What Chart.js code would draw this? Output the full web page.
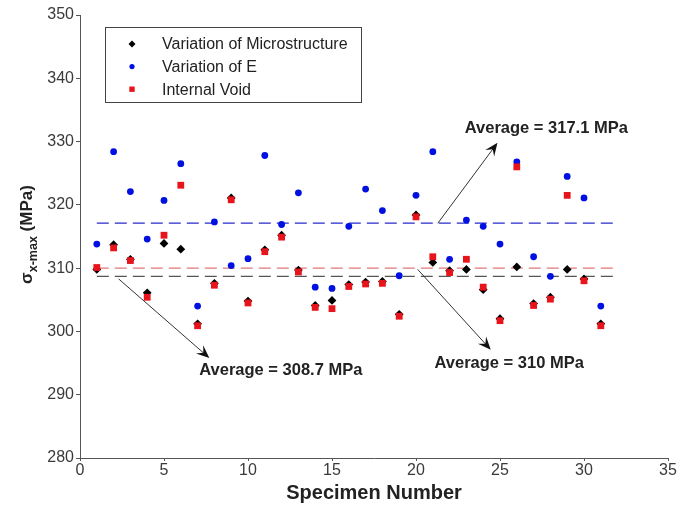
<!DOCTYPE html>
<html>
<head>
<meta charset="utf-8">
<script src="https://cdn.jsdelivr.net/npm/chart.js@4.4.1/dist/chart.umd.min.js"></script>
<style>
  html, body { margin: 0; padding: 0; background: #fff; }
  #wrap { width: 687px; height: 508px; }
</style>
</head>
<body>
<div id="wrap"><canvas id="canvas1"></canvas></div>
<script>
// specimen numbers and the max stress of each one, per source of variation
const specimen = [1, 2, 3, 4, 5, 6, 7, 8, 9, 10, 11, 12, 13, 14, 15, 16,
    17, 18, 19, 20, 21, 22, 23, 24, 25, 26, 27, 28, 29, 30, 31];
const microstructure = [309.8, 313.7, 311.4, 306.1, 313.9, 313.0, 301.2, 307.6, 321.1, 304.8, 312.9,
    315.2, 309.7, 304.1, 304.9, 307.4, 307.8, 307.9, 302.7, 318.4, 310.9, 309.6, 309.8, 306.6,
    302.0, 310.2, 304.4, 305.4, 309.8, 308.3, 301.2];
const variationE = [313.8, 328.4, 322.1, 314.6, 320.7, 326.5, 304.0, 317.3, 310.4, 311.5, 327.8,
    316.9, 321.9, 307.0, 306.8, 316.6, 322.5, 319.1, 308.8, 321.5, 328.4, 311.4, 317.6, 316.6,
    313.8, 326.8, 311.8, 308.7, 324.5, 321.1, 304.0];
const internalVoid = [310.1, 313.2, 311.2, 305.4, 315.2, 323.1, 300.9, 307.3, 320.8, 304.5, 312.6,
    314.9, 309.4, 303.8, 303.6, 307.1, 307.5, 307.6, 302.4, 318.1, 311.8, 309.3, 311.4, 307.0,
    301.7, 326.0, 304.1, 305.1, 321.5, 308.0, 300.9];

const seriesNames = ['Variation of Microstructure', 'Variation of E', 'Internal Void'];
const averages = [308.7, 317.1, 310];
const averageSpan = [1, 32];
const xTicks = [0, 5, 10, 15, 20, 25, 30, 35];
const yTicks = [280, 290, 300, 310, 320, 330, 340, 350];

// average callouts: arrow from (x0,y0) to (x1,y1), text at (tx,ty) in data units
const notes = [
    { text: 'Average = 317.1 MPa', x0: 21.3, y0: 317.1, x1: 24.85, y1: 329.8, tx: 22.9, ty: 332.0 },
    { text: 'Average = 308.7 MPa', x0: 2.3, y0: 308.3, x1: 7.7, y1: 295.8, tx: 7.1, ty: 293.9 },
    { text: 'Average = 310 MPa', x0: 20.1, y0: 309.8, x1: 24.45, y1: 297.1, tx: 21.1, ty: 295.0 }
];

function pts(values) {
    return specimen.map((s, i) => ({ x: s, y: values[i] }));
}
function avgLine(v) {
    return averageSpan.map(x => ({ x: x, y: v }));
}

const FONT = "'Liberation Sans', Arial, sans-serif";

const data = {
    datasets: [
        {
            label: seriesNames[0], data: pts(microstructure),
            pointStyle: 'rectRot', pointRadius: 4.4, backgroundColor: '#000', borderColor: '#000',
            borderWidth: 0, order: 2, legendRadius: 3.5
        },
        {
            label: seriesNames[1], data: pts(variationE),
            pointStyle: 'circle', pointRadius: 3.4, backgroundColor: '#0010e0', borderColor: '#0010e0',
            borderWidth: 0, order: 1, legendRadius: 2.6
        },
        {
            label: seriesNames[2], data: pts(internalVoid),
            pointStyle: 'rect', pointRadius: 4.8, backgroundColor: '#e8141c', borderColor: '#e8141c',
            borderWidth: 0, order: 0, legendRadius: 3.8
        },
        {
            type: 'line', label: 'avg E', data: avgLine(averages[1]), showLine: true,
            borderColor: '#2a2ad0', borderWidth: 1.3, borderDash: [12, 6], pointRadius: 0, order: 5
        },
        {
            type: 'line', label: 'avg void', data: avgLine(averages[2]), showLine: true,
            borderColor: '#e07878', borderWidth: 1.3, borderDash: [12, 6], pointRadius: 0, order: 5
        },
        {
            type: 'line', label: 'avg micro', data: avgLine(averages[0]), showLine: true,
            borderColor: '#555', borderWidth: 1.3, borderDash: [12, 6], pointRadius: 0, order: 5
        }
    ]
};

// framed legend in the upper left of the plot
const legendBox = {
    id: 'legendBox',
    afterDraw(chart) {
        const ctx = chart.ctx;
        ctx.save();
        ctx.strokeStyle = '#444';
        ctx.lineWidth = 1;
        ctx.fillStyle = '#fff';
        ctx.fillRect(105.5, 27.5, 256, 75);
        ctx.strokeRect(105.5, 27.5, 256, 75);
        ctx.font = '16px ' + FONT;
        ctx.textBaseline = 'middle';
        [0, 1, 2].forEach((i, k) => {
            const ds = chart.data.datasets[i];
            const y = 44 + k * 22.6;
            ctx.fillStyle = ds.backgroundColor;
            Chart.helpers.drawPoint(ctx, { pointStyle: ds.pointStyle, radius: ds.legendRadius, rotation: 0, borderWidth: 0 }, 132, y);
            ctx.fillStyle = '#222';
            ctx.fillText(ds.label, 162, y + 1);
        });
        ctx.restore();
    }
};

// arrows and labels for the average lines
const callouts = {
    id: 'callouts',
    afterDatasetsDraw(chart) {
        const ctx = chart.ctx;
        const xs = chart.scales.x, ys = chart.scales.y;
        ctx.save();
        notes.forEach(n => {
            const x0 = xs.getPixelForValue(n.x0), y0 = ys.getPixelForValue(n.y0);
            const x1 = xs.getPixelForValue(n.x1), y1 = ys.getPixelForValue(n.y1);
            const a = Math.atan2(y1 - y0, x1 - x0);
            ctx.strokeStyle = '#333';
            ctx.lineWidth = 1;
            ctx.beginPath();
            ctx.moveTo(x0, y0);
            ctx.lineTo(x1 - 6 * Math.cos(a), y1 - 6 * Math.sin(a));
            ctx.stroke();
            ctx.fillStyle = '#111';
            ctx.beginPath();
            ctx.moveTo(x1, y1);
            ctx.lineTo(x1 - 13 * Math.cos(a) + 5.5 * Math.sin(a), y1 - 13 * Math.sin(a) - 5.5 * Math.cos(a));
            ctx.lineTo(x1 - 8 * Math.cos(a), y1 - 8 * Math.sin(a));
            ctx.lineTo(x1 - 13 * Math.cos(a) - 5.5 * Math.sin(a), y1 - 13 * Math.sin(a) + 5.5 * Math.cos(a));
            ctx.closePath();
            ctx.fill();
            ctx.font = 'bold 16.5px ' + FONT;
            ctx.textBaseline = 'middle';
            ctx.textAlign = 'left';
            ctx.fillStyle = '#222';
            ctx.fillText(n.text, xs.getPixelForValue(n.tx), ys.getPixelForValue(n.ty));
        });
        ctx.restore();
    }
};

// y axis title with the subscript on sigma
const yTitle = {
    id: 'yTitle',
    afterDraw(chart) {
        const ctx = chart.ctx;
        const area = chart.chartArea;
        const cy = (area.top + area.bottom) / 2 - 2;
        ctx.save();
        ctx.translate(32, cy);
        ctx.rotate(-Math.PI / 2);
        ctx.fillStyle = '#222';
        ctx.textBaseline = 'alphabetic';
        const big = 'bold 17px ' + FONT, small = 'bold 12.5px ' + FONT;
        ctx.font = big;
        const w1 = ctx.measureText('σ').width, w3 = ctx.measureText(' (MPa)').width;
        ctx.font = small;
        const w2 = ctx.measureText('x-max').width;
        let x = -(w1 + w2 + w3) / 2;
        ctx.font = big;
        ctx.fillText('σ', x, 0);
        x += w1;
        ctx.font = small;
        ctx.fillText('x-max', x, 5);
        x += w2;
        ctx.font = big;
        ctx.fillText(' (MPa)', x, 0);
        ctx.restore();
    }
};

const config = {
    type: 'scatter',
    data: data,
    options: {
        responsive: true,
        maintainAspectRatio: false,
        animation: false,
        layout: { padding: { top: 15, right: 19, left: 0, bottom: 0 } },
        plugins: {
            legend: { display: false },
            tooltip: { enabled: false }
        },
        scales: {
            x: {
                type: 'linear', min: 0, max: 35,
                afterFit(scale) { scale.height = 50; },
                afterBuildTicks(scale) { scale.ticks = xTicks.map(v => ({ value: v })); },
                grid: { drawOnChartArea: false, drawTicks: true, tickLength: 3, color: '#555' },
                border: { color: '#555', width: 1 },
                ticks: { padding: 0, color: '#3a3a3a', font: { family: FONT, size: 16 } },
                title: {
                    display: true, text: 'Specimen Number', color: '#222',
                    font: { family: FONT, size: 20, weight: 'bold' }, padding: { top: 0, bottom: 3 }
                }
            },
            y: {
                min: 280, max: 350,
                afterFit(scale) { scale.width = 80; },
                afterBuildTicks(scale) { scale.ticks = yTicks.map(v => ({ value: v })); },
                grid: { drawOnChartArea: false, drawTicks: true, tickLength: 4, color: '#555' },
                border: { color: '#555', width: 1 },
                ticks: { padding: 2, color: '#3a3a3a', font: { family: FONT, size: 16 } }
            }
        }
    },
    plugins: [callouts, legendBox, yTitle]
};

const chart = new Chart(document.getElementById('canvas1'), config);
</script>
</body>
</html>
